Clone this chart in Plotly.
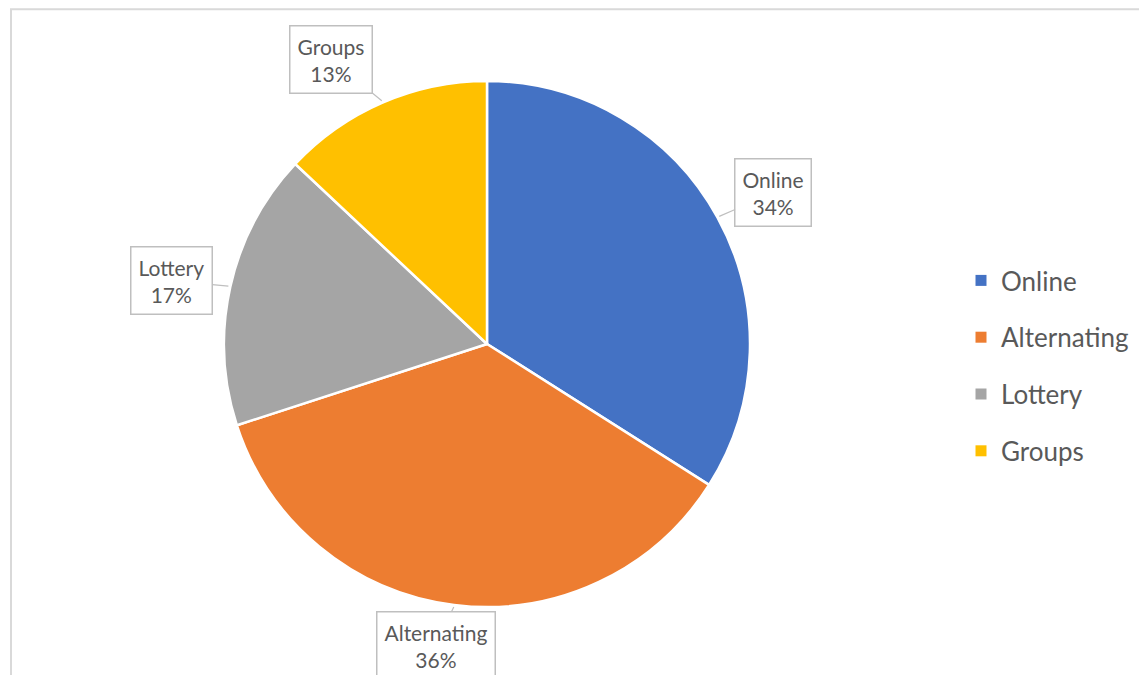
import math
import plotly.graph_objects as go

labels = ["Online", "Alternating", "Lottery", "Groups"]
values = [34, 36, 17, 13]
colors = ["#4472C4", "#ED7D31", "#A5A5A5", "#FFC000"]

W, H = 1147, 675
OFF = 8                              # page body margin of the browser
CX, CY, R = 487 - OFF, 344 - OFF, 263  # pie centre / radius in px
FONT = "Lato"
TXT = "#595959"
# small per-label nudges (px) of the callout boxes, Excel-style placement
nudge = [(4, 4), (-11, 0), (-1, 7), (-28, 11)]

fig = go.Figure()
fig.add_trace(go.Pie(
    labels=labels, values=values, sort=False, direction="clockwise", rotation=0,
    marker=dict(colors=colors, line=dict(color="white", width=2.5)),
    textinfo="none", hoverinfo="label+percent", showlegend=False,
    domain=dict(x=[(CX - R) / W, (CX + R) / W], y=[(H - CY - R) / H, (H - CY + R) / H]),
))

# legend entries via dummy traces (allows Excel-like spacing)
for lab, col in zip(labels, colors):
    fig.add_trace(go.Scatter(
        x=[None], y=[None], mode="markers", name=lab, legendgroup=lab,
        marker=dict(symbol="square", size=11, color=col),
    ))

# callout labels
total = sum(values)
cum = 0
for lab, v, (nx, ny) in zip(labels, values, nudge):
    mid = (cum + v / 2) / total * 2 * math.pi
    cum += v
    s, c = math.sin(mid), math.cos(mid)
    ex, ey = CX + (R + 2) * s, CY - (R + 2) * c
    bx, by = CX + 1.225 * R * s, CY - 1.225 * R * c
    by = min(by, 645 - OFF)
    bx, by = bx + nx, by + ny
    fig.add_annotation(
        x=ex / W, y=1 - ey / H, xref="paper", yref="paper",
        text=f"{lab}<br>{round(v / total * 100)}%",
        showarrow=True, arrowhead=0, arrowwidth=1.2, arrowcolor="#bfbfbf",
        ax=bx - ex, ay=by - ey,
        font=dict(family=FONT, size=21, color=TXT),
        bgcolor="white", bordercolor="#bfbfbf", borderwidth=1.5, borderpad=7,
    )

# chart area border (extends past the window on the right/bottom)
fig.add_shape(type="rect", xref="paper", yref="paper",
              x0=(11 - OFF) / W, x1=1.02, y0=-0.02, y1=1 - 1.2 / H,
              line=dict(color="#d9d9d9", width=2), fillcolor="rgba(0,0,0,0)", layer="below")

fig.update_layout(
    width=W, height=H, margin=dict(l=0, r=0, t=0, b=0),
    paper_bgcolor="white", plot_bgcolor="white",
    xaxis=dict(visible=False), yaxis=dict(visible=False),
    font=dict(family=FONT, color=TXT),
    legend=dict(x=(961 - OFF) / W, y=1 - (366 - OFF) / H, xanchor="left", yanchor="middle",
                font=dict(family=FONT, size=26, color=TXT),
                tracegroupgap=20, traceorder="grouped", itemclick=False),
)

fig.write_html("out.html")
